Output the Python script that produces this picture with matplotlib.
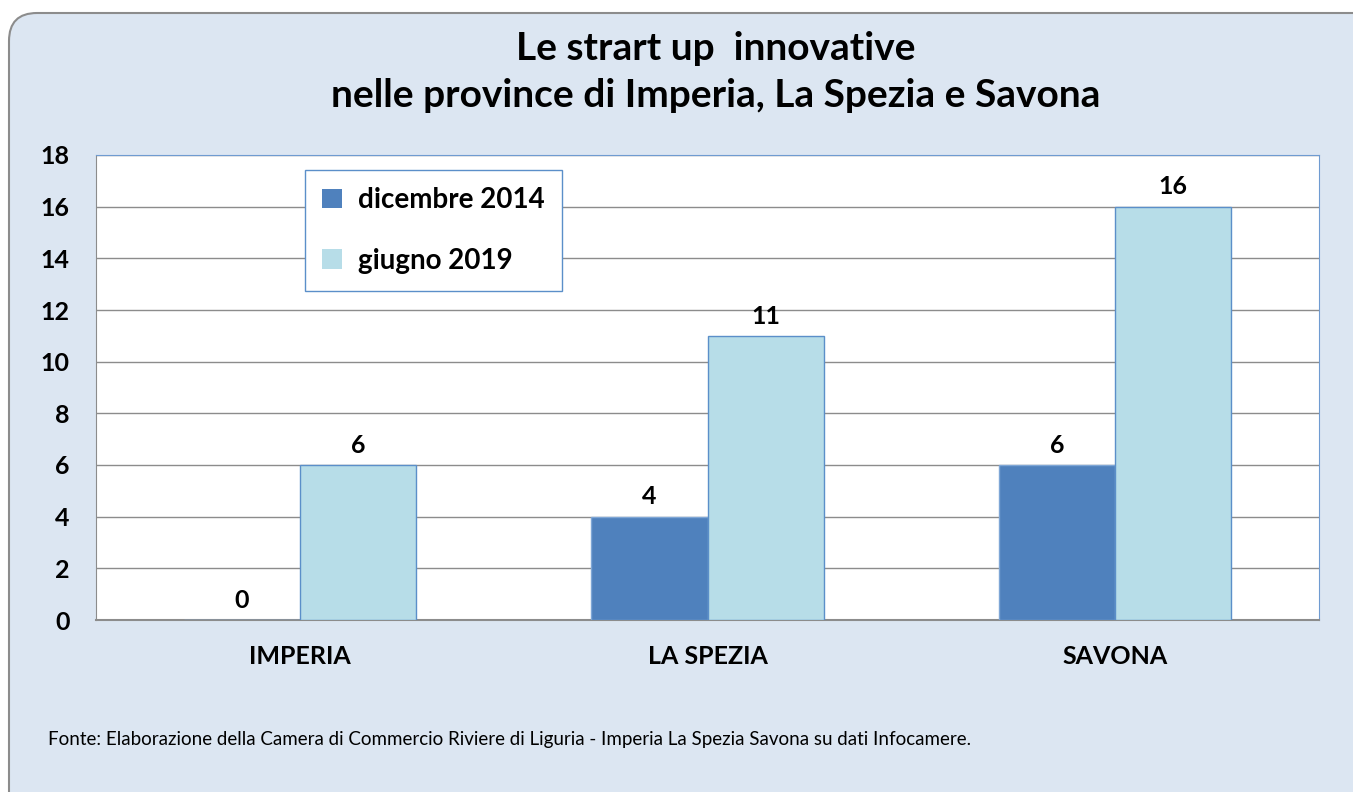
import matplotlib
matplotlib.use("Agg")
import numpy as np
import matplotlib.pyplot as plt
from matplotlib.patches import FancyBboxPatch

province = ["IMPERIA", "LA SPEZIA", "SAVONA"]
dic_2014 = [0, 4, 6]
giu_2019 = [6, 11, 16]
serie_labels = ["dicembre 2014", "giugno 2019"]
y_ticks = [0, 2, 4, 6, 8, 10, 12, 14, 16, 18]

title_text = "Le strart up  innovative\nnelle province di Imperia, La Spezia e Savona"
fonte = ("Fonte: Elaborazione della Camera di Commercio Riviere di Liguria - "
         "Imperia La Spezia Savona su dati Infocamere.")

plt.rcParams["font.family"] = ["Lato", "DejaVu Sans"]

fig = plt.figure(figsize=(13.53, 7.92), dpi=100)
fig.patch.set_facecolor("white")

# rounded chart area (cut off at right and bottom, as in the original)
bg = FancyBboxPatch((9, -40), 1400, 792 - 13 + 40,
                    boxstyle="round,pad=0,rounding_size=28",
                    transform=None, facecolor="#dce6f2", edgecolor="#8c8c8c",
                    linewidth=1.5, zorder=-10)
fig.patches.append(bg)

ax = fig.add_axes([96 / 1353, 1 - 620 / 792, (1319 - 96) / 1353, (620 - 155) / 792])
ax.set_facecolor("white")
ax.set_zorder(2)

x = np.arange(len(province))
w = 0.285
b1 = ax.bar(x - w / 2, dic_2014, w, color="#4f81bd", edgecolor="#7ea6d6",
            linewidth=1, label=serie_labels[0], zorder=3)
b2 = ax.bar(x + w / 2, giu_2019, w, color="#b7dde8", edgecolor="#5b8fc9",
            linewidth=1, label=serie_labels[1], zorder=3)

for bars, vals in [(b1, dic_2014), (b2, giu_2019)]:
    for r, v in zip(bars, vals):
        ax.annotate(str(v), (r.get_x() + r.get_width() / 2, v),
                    xytext=(0, 6), textcoords="offset points",
                    ha="center", va="bottom", fontsize=18, fontweight="bold")

ax.set_xlim(-0.5, 2.5)
ax.set_ylim(0, 18)
ax.set_yticks(y_ticks)
ax.set_xticks(x)
ax.set_xticklabels(province)
ax.tick_params(axis="y", length=0, pad=19, labelsize=18)
ax.tick_params(axis="x", length=0, pad=18, labelsize=18)
for lab in ax.get_xticklabels() + ax.get_yticklabels():
    lab.set_fontweight("bold")

ax.grid(axis="y", color="#8c8c8c", linewidth=1, zorder=0)
ax.set_axisbelow(True)
ax.spines["left"].set_color("#8c8c8c")
ax.spines["bottom"].set_color("#8c8c8c")
ax.spines["bottom"].set_linewidth(1.5)
ax.spines["top"].set_color("#6f9bd1")
ax.spines["right"].set_color("#6f9bd1")

leg = ax.legend(loc="upper left", bbox_to_anchor=((305 - 96) / 1223, (620 - 170) / 465),
                borderaxespad=0, prop={"weight": "bold", "size": 20},
                handlelength=0.7, handleheight=0.7, labelspacing=1.25,
                borderpad=0.62, handletextpad=0.6, fancybox=False, framealpha=1)
leg.get_frame().set_edgecolor("#5b8fc9")
leg.get_frame().set_linewidth(1)
for h in leg.legend_handles:
    h.set_edgecolor("none")

fig.text(716 / 1353, 1 - 72 / 792, title_text, ha="center", va="center",
         fontsize=28, fontweight="bold", linespacing=1.4)

fig.text(48 / 1353, 1 - 740 / 792, fonte, ha="left", va="center", fontsize=13.5)

fig.savefig("out.png", dpi=100)
